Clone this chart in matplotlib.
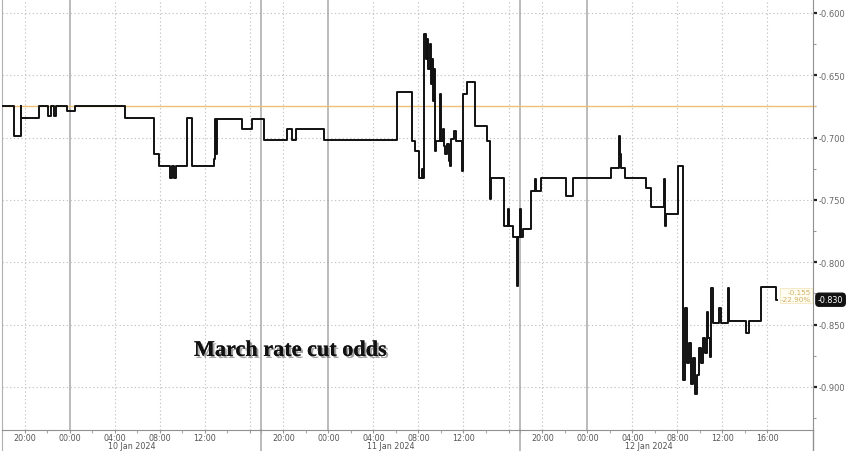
import matplotlib
matplotlib.use("Agg")
import matplotlib.pyplot as plt
import matplotlib.patheffects as pe
from matplotlib.transforms import blended_transform_factory
import numpy as np

# time axis: trading hours since session open (18:00 ET, 9 Jan 2024); sessions are 23h long
hours = [0.00, 1.11, 1.65, 1.73, 3.33, 4.13, 4.31, 4.66, 4.84, 5.81, 6.52,
         10.95, 13.52, 13.97, 14.94, 15.12, 15.30, 15.48, 16.45, 16.89,
         18.84, 18.93, 19.02, 19.11, 21.33, 22.21, 23.28, 25.32, 25.76, 26.11,
         28.60, 35.07, 36.40, 36.66, 37.02, 37.28, 37.37, 37.46, 37.64, 37.73,
         37.82, 37.99, 38.08, 38.17, 38.26, 38.35, 38.44, 38.53, 38.88, 38.97,
         39.15, 39.23, 39.32, 39.50, 39.68, 39.77, 39.86, 40.12, 40.30, 40.83,
         40.92, 41.27, 41.98, 43.05, 43.31, 43.40, 44.64, 44.91, 45.00, 45.44,
         45.71, 45.80, 46.06, 46.15, 46.33, 47.04, 47.39, 47.48, 47.92, 50.14,
         50.76, 54.13, 54.84, 54.93, 55.02, 55.37, 57.23, 57.67, 58.83, 58.92,
         59.00, 60.07, 60.51, 60.69, 60.87, 61.04, 61.22, 61.40, 61.58, 61.75,
         61.93, 62.11, 62.28, 62.46, 62.64, 62.73, 62.91, 62.99, 63.17, 63.70,
         63.88, 64.50, 64.59, 66.10, 66.36, 67.43, 68.76, 68.84]
odds = [-0.675, -0.699, -0.675, -0.684, -0.675, -0.683, -0.675, -0.683, -0.675, -0.679, -0.675,
        -0.684, -0.713, -0.723, -0.732, -0.723, -0.732, -0.723, -0.684, -0.723,
        -0.717, -0.685, -0.713, -0.685, -0.693, -0.685, -0.702, -0.693, -0.702, -0.693,
        -0.702, -0.663, -0.703, -0.711, -0.732, -0.725, -0.732, -0.617, -0.637, -0.621,
        -0.645, -0.625, -0.657, -0.637, -0.671, -0.645, -0.711, -0.703, -0.665, -0.703,
        -0.693, -0.707, -0.713, -0.705, -0.719, -0.723, -0.701, -0.695, -0.703, -0.727,
        -0.665, -0.655, -0.691, -0.703, -0.749, -0.732, -0.771, -0.757, -0.771, -0.780,
        -0.819, -0.780, -0.757, -0.780, -0.773, -0.743, -0.733, -0.743, -0.732, -0.747,
        -0.732, -0.724, -0.699, -0.713, -0.724, -0.732, -0.740, -0.756, -0.733, -0.771,
        -0.761, -0.723, -0.894, -0.837, -0.881, -0.865, -0.898, -0.877, -0.906, -0.890,
        -0.869, -0.881, -0.861, -0.873, -0.840, -0.861, -0.876, -0.821, -0.849, -0.837,
        -0.849, -0.821, -0.847, -0.857, -0.847, -0.820, -0.830, -0.830]

reference_level = -0.675
last_value = -0.830
change_text = ["-0.155", "-22.90%"]
title_text = "March rate cut odds"

session_len = 23
session_dates = ["10 Jan 2024", "11 Jan 2024", "12 Jan 2024"]
tick_offsets = [2, 6, 10, 14, 18, 22]
tick_names = ["20:00", "00:00", "04:00", "08:00", "12:00", "16:00"]
labels_shown = [[True, True, True, True, True, False],
                [True, True, True, True, True, False],
                [True, True, True, True, True, True]]
y_ticks = [-0.600, -0.650, -0.700, -0.750, -0.800, -0.850, -0.900]

W, H = 848, 452
fig = plt.figure(figsize=(W / 100, H / 100), dpi=100)
ax = fig.add_axes([2 / W, 21 / H, 811 / W, 431 / H])
ax.set_xlim(0, 72.05)
ax.set_ylim(-0.9345, -0.5888)

grid_c = "#c4c4c4"
solid_c = "#a8a8a8"
for yv in y_ticks:
    ax.axhline(yv, color=grid_c, lw=0.8, ls=(0, (1.2, 2.2)), zorder=1)
major_pos, major_lab = [], []
for s in range(3):
    base = s * session_len
    for off, nm, show in zip(tick_offsets, tick_names, labels_shown[s]):
        pos = base + off
        if nm == "00:00":
            ax.axvline(pos, color=solid_c, lw=1.1, zorder=1)
        else:
            ax.axvline(pos, color=grid_c, lw=0.8, ls=(0, (1.2, 2.2)), zorder=1)
        major_pos.append(pos)
        major_lab.append(nm if show else "")

trx = blended_transform_factory(ax.transData, ax.transAxes)
for s in (1, 2):
    xs = s * session_len
    ax.axvline(xs, color=solid_c, lw=1.1, zorder=1)
    ax.plot([xs, xs], [0, -0.048], transform=trx, color=solid_c, lw=1.1, clip_on=False)

# reference line
ax.axhline(reference_level, color="#ecc173", lw=1.0, zorder=2)
ax.plot([1.0, 1.003], [reference_level] * 2,
        transform=blended_transform_factory(ax.transAxes, ax.transData),
        color="#ecc173", lw=1.0, clip_on=False)

# main series
ax.step(hours, odds, where="post", color="#111111", lw=1.4, zorder=3)

ax.spines["top"].set_visible(False)
ax.spines["left"].set_color("#b0b0b0")
ax.spines["bottom"].set_color("#909090")
ax.spines["right"].set_color("#909090")

ax.yaxis.tick_right()
ax.set_yticks(y_ticks)
ax.set_yticklabels([f"{v:.3f}" for v in y_ticks])
ax.set_yticks(np.arange(-0.925, -0.59, 0.05), minor=True)
ax.tick_params(axis="y", which="major", direction="out", length=3, width=1.6, color="#222222",
               labelsize=6, labelcolor="#666666", pad=1)
ax.tick_params(axis="y", which="minor", direction="out", length=2, width=0.8, color="#999999")

ax.set_xticks(major_pos)
ax.set_xticklabels(major_lab)
ax.set_xticks([s * session_len + o for s in range(3) for o in range(0, 23, 2)], minor=True)
ax.tick_params(axis="x", which="major", length=2, width=0.8, color="#999999",
               labelsize=5.8, labelcolor="#555555", pad=0.3)
ax.tick_params(axis="x", which="minor", length=2, width=0.8, color="#aaaaaa")

trb = blended_transform_factory(ax.transAxes, ax.transAxes)
ax.plot([1.0, 1.0], [0, -0.048], transform=trb, color="#909090", lw=1.0, clip_on=False)
ax.plot([0.0, 0.0], [0, -0.048], transform=trb, color="#b0b0b0", lw=0.8, clip_on=False)

trd = blended_transform_factory(ax.transData, fig.transFigure)
for s, d in enumerate(session_dates):
    ax.text(s * session_len + 11.5, 1 / H, d, transform=trd, ha="center", va="bottom",
            fontsize=5.8, color="#555555")

trl = blended_transform_factory(ax.transAxes, ax.transData)
ax.text(1.006, last_value, f"{last_value:.3f}", transform=trl, ha="left", va="center",
        fontsize=5.8, color="white",
        bbox=dict(boxstyle="round,pad=0.25,rounding_size=0.4", fc="#111111", ec="#111111"))

ax.text(0.9975, last_value + 0.0035, change_text[0] + "\n" + change_text[1], transform=trl,
        ha="right", va="center", fontsize=5.2, color="#d2b063", linespacing=1.3,
        bbox=dict(boxstyle="square,pad=0.15", fc="#fffdf2", ec="#f3e6c0", lw=0.6), zorder=4)

ax.text(17.05, -0.871, title_text, ha="left", va="center", fontsize=16, fontweight="bold",
        family="Liberation Serif", color="#111111", zorder=5,
        path_effects=[pe.withSimplePatchShadow(offset=(1.5, -1.5), shadow_rgbFace="#555555", alpha=0.55),
                      pe.Normal()])

fig.savefig("out.png", dpi=100, facecolor="white")
